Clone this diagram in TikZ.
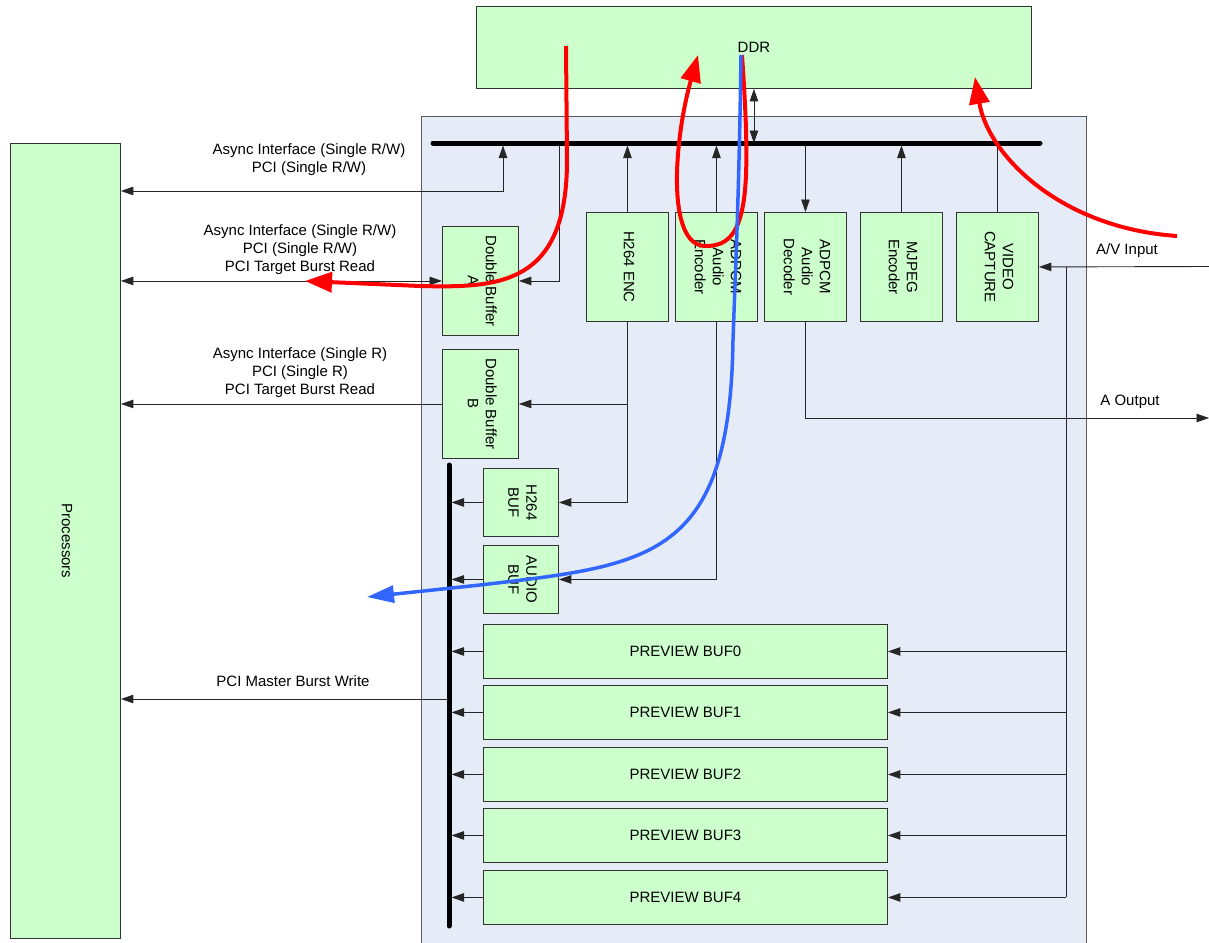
\documentclass[tikz,border=0pt]{standalone}
\usepackage{fontspec}
\setmainfont{Liberation Sans}
\usepackage{graphicx}
\usetikzlibrary{arrows.meta}
\definecolor{boxgreen}{RGB}{204,255,204}
\definecolor{panelblue}{RGB}{230,236,247}
\definecolor{edgegray}{RGB}{50,50,50}
\definecolor{redflowc}{RGB}{255,0,0}
\definecolor{blueflowc}{RGB}{51,102,255}
\newcommand{\rottext}[1]{\rotatebox{-90}{\begin{tabular}{@{}c@{}}#1\end{tabular}}}
\begin{document}
\begin{tikzpicture}[x=1pt,y=-1pt,
  txt/.style={font=\fontsize{15}{18}\selectfont, inner sep=0pt, align=center},
  box/.style={draw=edgegray, fill=boxgreen, line width=0.9pt, inner sep=0pt, anchor=north west, font=\fontsize{15}{18}\selectfont},
  conn/.style={draw=black!85, line width=0.9pt},
  arrowto/.style={-{Triangle[length=12.5pt,width=8.5pt]}},
  arrowboth/.style={{Triangle[length=12.5pt,width=8.5pt]}-{Triangle[length=12.5pt,width=8.5pt]}},
  busline/.style={line width=5pt, line cap=round, black},
  redflow/.style={draw=redflowc, line width=4pt, -{Triangle[length=27pt,width=20pt]}},
  blueflow/.style={draw=blueflowc, line width=3.5pt, -{Triangle[length=27pt,width=17pt]}}
]
\useasboundingbox (0,0) rectangle (1209,942);

% panel
\node[draw=black!65, fill=panelblue, line width=0.9pt, anchor=north west, minimum width=665pt, minimum height=850pt, inner sep=0pt] (panel) at (421,116) {};

% boxes
\node[box, minimum width=555pt, minimum height=82pt] (ddr) at (476,6) {DDR};
\node[box, minimum width=110pt, minimum height=795pt] (proc) at (10,143) {\rottext{Processors}};
\node[box, minimum width=76pt, minimum height=109pt] (dba) at (442,226) {\rottext{Double Buffer\\A}};
\node[box, minimum width=76pt, minimum height=109pt] (dbb) at (442,349) {\rottext{Double Buffer\\B}};
\node[box, minimum width=82pt, minimum height=109pt] (h264) at (586,212) {\rottext{H264 ENC}};
\node[box, minimum width=82pt, minimum height=109pt] (aenc) at (675,212) {\rottext{ADPCM\\Audio\\Encoder}};
\node[box, minimum width=82pt, minimum height=109pt] (adec) at (764,212) {\rottext{ADPCM\\Audio\\Decoder}};
\node[box, minimum width=82pt, minimum height=109pt] (mjpeg) at (860,212) {\rottext{MJPEG\\Encoder}};
\node[box, minimum width=82pt, minimum height=109pt] (vcap) at (956,212) {\rottext{VIDEO\\CAPTURE}};
\node[box, minimum width=75pt, minimum height=68pt] (hbuf) at (483,468) {\rottext{H264\\BUF}};
\node[box, minimum width=75pt, minimum height=68pt] (abuf) at (483,545) {\rottext{AUDIO\\BUF}};
\node[box, minimum width=404pt, minimum height=54pt] (pb0) at (483,624) {PREVIEW BUF0};
\node[box, minimum width=404pt, minimum height=54pt] (pb1) at (483,685) {PREVIEW BUF1};
\node[box, minimum width=404pt, minimum height=54pt] (pb2) at (483,747) {PREVIEW BUF2};
\node[box, minimum width=404pt, minimum height=54pt] (pb3) at (483,808) {PREVIEW BUF3};
\node[box, minimum width=404pt, minimum height=54pt] (pb4) at (483,870) {PREVIEW BUF4};

% coordinates
\coordinate (busL) at (433,143);
\coordinate (busR) at (1040,143);
\coordinate (lbT) at (449,465);
\coordinate (lbB) at (449,926);
\coordinate (j1) at (503,191);
\coordinate (j2) at (559,143);
\coordinate (avin) at (1209,266.5);
\coordinate (aout) at (1209,418);
\coordinate (vtap) at (1066,266.5);
\coordinate (pm) at (449,699);

% connectors
\draw[conn, arrowboth] (ddr.south) -- (ddr.south |- busL);
\draw[conn, arrowboth, shorten >=2.5pt] (proc.east |- j1) -- (j1) -- (j1 |- busL);
\draw[conn, arrowto] (j2) -- (j2 |- dba.east) -- (dba.east);
\draw[conn, arrowboth] (proc.east |- dba.west) -- (dba.west);
\draw[conn, arrowto] (dbb.west) -- (proc.east |- dbb.west);
\draw[conn, arrowto, shorten >=2.5pt] (h264.north) -- (h264.north |- busL);
\draw[conn, arrowto] (h264.south) -- (h264.south |- hbuf.east) -- (hbuf.east);
\draw[conn, arrowto] (h264.south |- dbb.east) -- (dbb.east);
\draw[conn, arrowto, shorten >=2.5pt] (aenc.north) -- (aenc.north |- busL);
\draw[conn, arrowto] (aenc.south) -- (aenc.south |- abuf.east) -- (abuf.east);
\draw[conn, arrowto] (adec.north |- busL) -- (adec.north);
\draw[conn, arrowto] (adec.south) -- (adec.south |- aout) -- (aout);
\draw[conn, arrowto, shorten >=2.5pt] (mjpeg.north) -- (mjpeg.north |- busL);
\draw[conn] (vcap.north) -- (vcap.north |- busL);
\draw[conn, arrowto] (avin) -- (vcap.east);
\draw[conn] (vtap) -- (vtap |- pb4.east);
\foreach \b in {pb0,pb1,pb2,pb3,pb4} {
  \draw[conn, arrowto] (vtap |- \b.east) -- (\b.east);
  \draw[conn, arrowto, shorten >=2.5pt] (\b.west) -- (lbT |- \b.west);
}
\draw[conn, arrowto, shorten >=2.5pt] (hbuf.west) -- (lbT |- hbuf.west);
\draw[conn, arrowto, shorten >=2.5pt] (abuf.west) -- (lbT |- abuf.west);
\draw[conn, arrowto] (pm) -- (proc.east |- pm);

% buses
\draw[busline] (busL) -- (busR);
\draw[busline] (lbT) -- (lbB);

% labels
\node[txt] (l1) at (309,160) {Async Interface (Single R/W)\\PCI (Single R/W)};
\node[txt] (l2) at (300,249.5) {Async Interface (Single R/W)\\PCI (Single R/W)\\PCI Target Burst Read};
\node[txt] (l3) at (300,372.5) {Async Interface (Single R)\\PCI (Single R)\\PCI Target Burst Read};
\node[txt] (l4) at (293,681) {PCI Master Burst Write};
\node[txt] (l5) at (1127,251) {A/V Input};
\node[txt] (l6) at (1130,402) {A Output};

% flows
\draw[redflow] (566,46) -- (567,160) .. controls (567,285) and (500,288) .. (420,286) -- (305,281);
\draw[redflow] (742,55) .. controls (752,200) and (747,247) .. (705,246) .. controls (666,245) and (674,140) .. (698,55);
\draw[redflow] (1177,236) .. controls (1060,228) and (988,155) .. (975,77);
\draw[blueflow] (741,55) .. controls (739,200) and (735,280) .. (733,340) .. controls (730,560) and (650,565) .. (480,585) -- (367,597);
\end{tikzpicture}
\end{document}
